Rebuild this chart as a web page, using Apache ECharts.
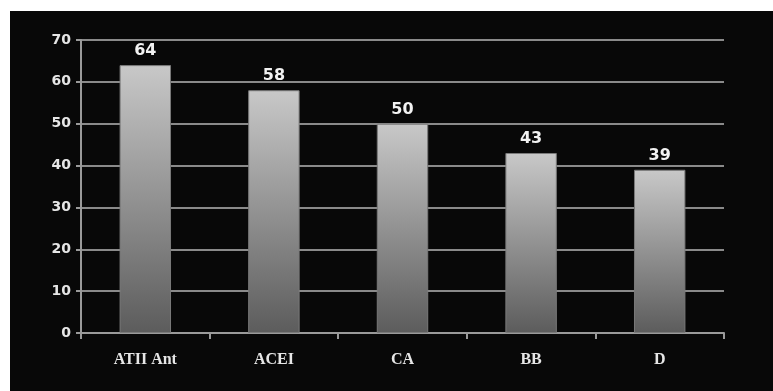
<!DOCTYPE html>
<html>
<head>
<meta charset="utf-8">
<script src="https://cdn.jsdelivr.net/npm/echarts@6/dist/echarts.min.js"></script>
<style>
  html, body { margin: 0; padding: 0; background: #ffffff; }
  #frame { position: absolute; left: 10px; top: 11px; width: 763px; height: 380px; background: #080808; }
  #chart { position: absolute; left: 0; top: 0; width: 773px; height: 391px; }
</style>
</head>
<body>
<div id="frame"></div>
<div id="chart"></div>
<script>
const categories = ['ATII Ant', 'ACEI', 'CA', 'BB', 'D'];
const values = [64, 58, 50, 43, 39];

const chart = echarts.init(document.getElementById('chart'), null, { renderer: 'canvas' });

const barFill = new echarts.graphic.LinearGradient(0, 0, 0, 1, [
  { offset: 0, color: '#c8c8c8' },
  { offset: 1, color: '#5c5c5c' }
]);

chart.setOption({
  backgroundColor: 'transparent',
  animation: false,
  grid: { left: 81, right: 49, top: 40, bottom: 58, containLabel: false },
  xAxis: {
    type: 'category',
    data: categories,
    axisLine: { show: true, lineStyle: { color: '#9a9a9a', width: 2 } },
    axisTick: { show: true, alignWithLabel: false, length: 6, lineStyle: { color: '#9a9a9a', width: 2 } },
    axisLabel: {
      color: '#e6e6e6',
      fontFamily: 'Liberation Serif',
      fontWeight: 'bold',
      fontSize: 16,
      margin: 19
    }
  },
  yAxis: {
    type: 'value',
    min: 0,
    max: 70,
    interval: 10,
    axisLine: { show: true, lineStyle: { color: '#9a9a9a', width: 2 } },
    axisTick: { show: true, length: 5, lineStyle: { color: '#9a9a9a', width: 2 } },
    splitLine: { show: true, lineStyle: { color: '#8a8a8a', width: 2 } },
    axisLabel: {
      color: '#e6e6e6',
      fontFamily: 'DejaVu Sans',
      fontWeight: 'bold',
      fontSize: 14,
      margin: 10
    }
  },
  series: [{
    type: 'bar',
    data: values,
    barWidth: '40%',
    itemStyle: {
      color: barFill,
      borderColor: '#7a7a7a',
      borderWidth: 1
    },
    label: {
      show: true,
      position: 'top',
      distance: 6,
      color: '#f2f2f2',
      fontFamily: 'DejaVu Sans',
      fontWeight: 'bold',
      fontSize: 16
    }
  }]
});
</script>
</body>
</html>
